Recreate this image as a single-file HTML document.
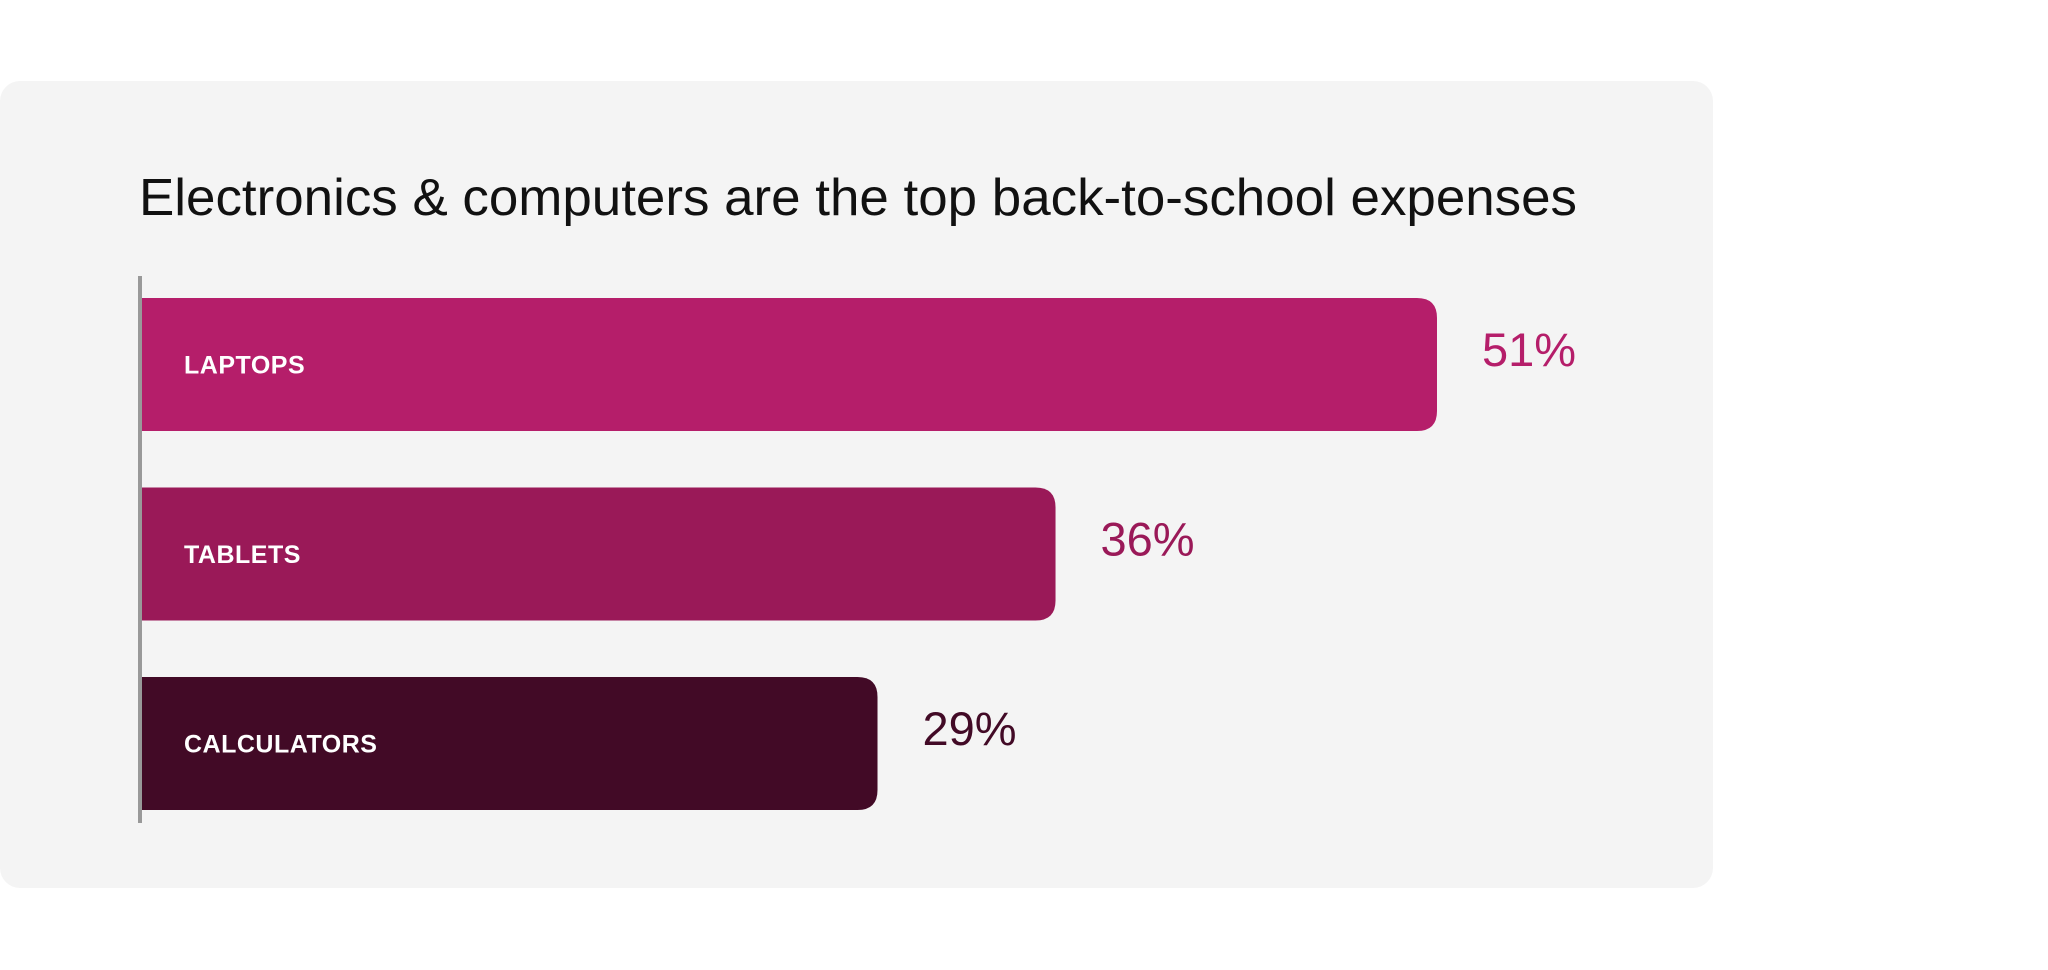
<!DOCTYPE html>
<html><head><meta charset="utf-8"><style>
html,body{margin:0;padding:0;background:#fff;width:2048px;height:970px;overflow:hidden}
svg{display:block}
</style></head><body>
<svg width="2048" height="970" viewBox="0 0 2048 970" id="chart">
<rect x="0" y="81" width="1713" height="807" rx="20" fill="#f4f4f4"/>
<text x="139" y="215" font-family="Liberation Sans, sans-serif" font-size="52" fill="#111" textLength="1438" lengthAdjust="spacingAndGlyphs">Electronics &amp; computers are the top back-to-school expenses</text>
<g id="bars"></g>
<line x1="140" y1="276" x2="140" y2="823" stroke="#999" stroke-width="4"/>
</svg>
<script>
const categories = ["LAPTOPS", "TABLETS", "CALCULATORS"];
const values = [51, 36, 29];
const valueLabels = ["51%", "36%", "29%"];
const colors = ["#B51E6A", "#9A1958", "#420A26"];

const x0 = 140, xMax = 1437, vMax = 51;
const xScale = v => x0 + (v / vMax) * (xMax - x0);
const bandTop = 298, bandStep = 189.5, barH = 133;
const yScale = i => bandTop + i * bandStep;
const ns = "http://www.w3.org/2000/svg";
const g = document.getElementById('bars');
const r = 20;
categories.forEach((c, i) => {
  const y = yScale(i), xe = xScale(values[i]);
  const p = document.createElementNS(ns, 'path');
  p.setAttribute('d', `M${x0} ${y} H${xe - r} Q${xe} ${y} ${xe} ${y + r} V${y + barH - r} Q${xe} ${y + barH} ${xe - r} ${y + barH} H${x0} Z`);
  p.setAttribute('fill', colors[i]);
  
  
  g.appendChild(p);
  const t = document.createElementNS(ns, 'text');
  t.setAttribute('x', x0 + 44);
  t.setAttribute('y', y + barH / 2 + 9);
  t.setAttribute('font-family', 'Liberation Sans, sans-serif');
  t.setAttribute('font-size', '25');
  t.setAttribute('font-weight', 'bold');
  t.setAttribute('fill', '#fff');
  t.setAttribute('letter-spacing', '0.5');
  t.textContent = c;
  
  
  g.appendChild(t);
  const v = document.createElementNS(ns, 'text');
  v.setAttribute('x', xe + 45);
  v.setAttribute('y', y + 68);
  v.setAttribute('font-family', 'Liberation Sans, sans-serif');
  v.setAttribute('font-size', '47');
  v.setAttribute('fill', colors[i] === '#420A26' ? '#420A26' : colors[i]);
  v.textContent = valueLabels[i];
  
  
  g.appendChild(v);
});
</script>
</body></html>
